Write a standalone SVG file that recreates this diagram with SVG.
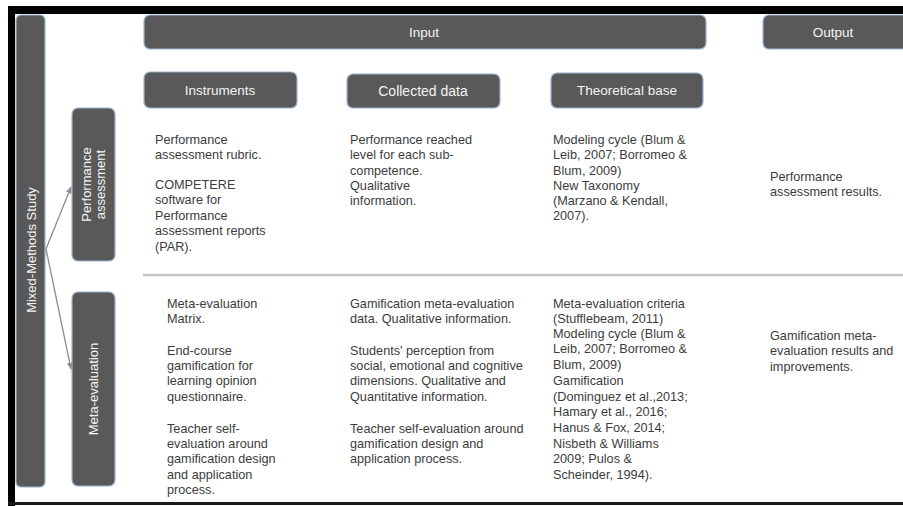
<svg xmlns="http://www.w3.org/2000/svg" width="903" height="506" viewBox="0 0 903 506">
<defs>
<style>
.box{fill:#595959;stroke:#9db4cf;stroke-width:1.2}
.lbl{font-family:"Liberation Sans",Arial,sans-serif;font-size:13.5px;fill:#f4f4f4;text-anchor:middle}
.vl{font-family:"Liberation Sans",Arial,sans-serif;font-size:13px;fill:#f4f4f4;text-anchor:middle}
.t{font-family:"Liberation Sans",Arial,sans-serif;font-size:12.7px;fill:#3c3c3c}
.conn{stroke:#8c8c8c;stroke-width:1.3;fill:none;marker-end:url(#ah)}
</style>
<marker id="ah" viewBox="0 0 10 10" refX="9" refY="5" markerWidth="7" markerHeight="7" orient="auto" markerUnits="userSpaceOnUse">
<path d="M0,1 L10,5 L0,9 z" fill="#8c8c8c"/>
</marker>
</defs>
<rect x="0" y="0" width="903" height="506" fill="#ffffff"/>
<g id="frame">
<rect x="8" y="6" width="895" height="8" fill="#000000"/>
<rect x="8" y="6" width="7" height="500" fill="#000000"/>
<rect x="8" y="502" width="895" height="3" fill="#1a1a1a"/>
</g>
<line id="separator" x1="143" y1="275" x2="903" y2="275" stroke="#c4c4c4" stroke-width="2.5"/>
<g id="mixed">
<rect class="box" x="16" y="15" width="29" height="472" rx="5"/>
<text class="vl" transform="translate(35.5,250) rotate(-90)">Mixed-Methods Study</text>
</g>
<g id="perf">
<rect class="box" x="72" y="108" width="43" height="153" rx="6"/>
<text class="vl" transform="translate(91,184.5) rotate(-90)">Performance</text>
<text class="vl" transform="translate(105,184.5) rotate(-90)">assessment</text>
</g>
<g id="meta">
<rect class="box" x="72" y="292" width="43" height="194" rx="6"/>
<text class="vl" transform="translate(98,389) rotate(-90)">Meta-evaluation</text>
</g>
<g id="connectors">
<line class="conn" x1="46" y1="249" x2="71" y2="187"/>
<line class="conn" x1="46" y1="249" x2="71" y2="369"/>
</g>
<g id="input">
<rect class="box" x="144" y="15" width="562" height="34" rx="6"/>
<text class="lbl" x="424" y="37">Input</text>
</g>
<g id="output">
<rect class="box" x="763" y="15" width="145" height="34" rx="6"/>
<text class="lbl" x="833" y="37">Output</text>
</g>
<g id="instruments">
<rect class="box" x="144" y="72" width="153" height="36" rx="6"/>
<text class="lbl" x="220" y="95">Instruments</text>
</g>
<g id="collected">
<rect class="box" x="347" y="74" width="153" height="34" rx="6"/>
<text class="lbl" x="423" y="96" style="font-size:14px">Collected data</text>
</g>
<g id="theoretical">
<rect class="box" x="551" y="73" width="152" height="35" rx="6"/>
<text class="lbl" x="627" y="95">Theoretical base</text>
</g>
<g id="perf-texts">
<text class="t"><tspan x="155" y="143.5">Performance</tspan><tspan x="155" y="159">assessment rubric.</tspan><tspan x="155" y="188.5">COMPETERE</tspan><tspan x="155" y="204">software for</tspan><tspan x="155" y="219.5">Performance</tspan><tspan x="155" y="235">assessment reports</tspan><tspan x="155" y="250.5">(PAR).</tspan></text>
<text class="t"><tspan x="350" y="143.5">Performance reached</tspan><tspan x="350" y="159">level for each sub-</tspan><tspan x="350" y="174.5">competence.</tspan><tspan x="350" y="189.5">Qualitative</tspan><tspan x="350" y="204.5">information.</tspan></text>
<text class="t"><tspan x="553" y="143.5">Modeling cycle (Blum &amp;</tspan><tspan x="553" y="159">Leib, 2007; Borromeo &amp;</tspan><tspan x="553" y="174.5">Blum, 2009)</tspan><tspan x="553" y="189.5">New Taxonomy</tspan><tspan x="553" y="204.5">(Marzano  &amp; Kendall,</tspan><tspan x="553" y="219.5">2007).</tspan></text>
<text class="t"><tspan x="770" y="180.5">Performance</tspan><tspan x="770" y="195.5">assessment results.</tspan></text>
</g>
<g id="meta-texts">
<text class="t"><tspan x="167" y="307.5">Meta-evaluation</tspan><tspan x="167" y="322.5">Matrix.</tspan><tspan x="167" y="354.5">End-course</tspan><tspan x="167" y="369.5">gamification for</tspan><tspan x="167" y="385">learning opinion</tspan><tspan x="167" y="400.5">questionnaire.</tspan><tspan x="167" y="432.5">Teacher self-</tspan><tspan x="167" y="447.5">evaluation around</tspan><tspan x="167" y="463">gamification design</tspan><tspan x="167" y="478.5">and application</tspan><tspan x="167" y="494">process.</tspan></text>
<text class="t"><tspan x="350" y="307.5">Gamification meta-evaluation</tspan><tspan x="350" y="322.5">data. Qualitative information.</tspan><tspan x="350" y="354.5">Students' perception from</tspan><tspan x="350" y="369.5">social, emotional and cognitive</tspan><tspan x="350" y="385">dimensions. Qualitative and</tspan><tspan x="350" y="400.5">Quantitative information.</tspan><tspan x="350" y="432.5">Teacher self-evaluation around</tspan><tspan x="350" y="447.5">gamification design and</tspan><tspan x="350" y="463">application process.</tspan></text>
<text class="t"><tspan x="553" y="307.5">Meta-evaluation criteria</tspan><tspan x="553" y="322.5">(Stufflebeam, 2011)</tspan><tspan x="553" y="337.5">Modeling cycle (Blum &amp;</tspan><tspan x="553" y="353">Leib, 2007; Borromeo &amp;</tspan><tspan x="553" y="369">Blum, 2009)</tspan><tspan x="553" y="385">Gamification</tspan><tspan x="553" y="400.5">(Dominguez et al.,2013;</tspan><tspan x="553" y="416">Hamary et al., 2016;</tspan><tspan x="553" y="432">Hanus &amp; Fox, 2014;</tspan><tspan x="553" y="447.5">Nisbeth &amp; Williams</tspan><tspan x="553" y="463">2009; Pulos &amp;</tspan><tspan x="553" y="478.5">Scheinder, 1994).</tspan></text>
<text class="t"><tspan x="770" y="339.5">Gamification meta-</tspan><tspan x="770" y="355">evaluation results and</tspan><tspan x="770" y="370.5">improvements.</tspan></text>
</g>
</svg>
